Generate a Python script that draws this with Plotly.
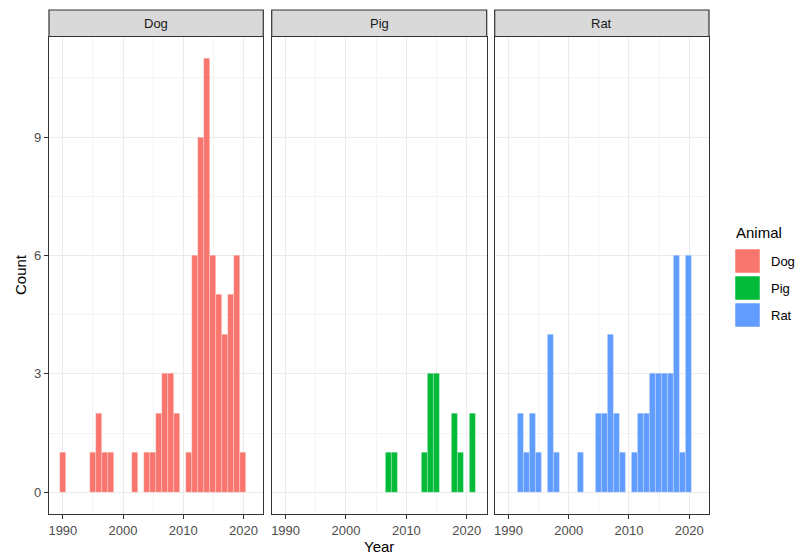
import plotly.graph_objects as go
from plotly.subplots import make_subplots

# Yearly counts per animal
animals = ["Dog", "Pig", "Rat"]
colors = ["#F8766D", "#00BA38", "#619CFF"]

dog_years = [1990, 1995, 1996, 1997, 1998, 2002, 2004, 2005, 2006, 2007, 2008, 2009,
             2011, 2012, 2013, 2014, 2015, 2016, 2017, 2018, 2019, 2020]
dog_counts = [1, 1, 2, 1, 1, 1, 1, 1, 2, 3, 3, 2,
              1, 6, 9, 11, 6, 5, 4, 5, 6, 1]

pig_years = [2007, 2008, 2013, 2014, 2015, 2018, 2019, 2021]
pig_counts = [1, 1, 1, 3, 3, 2, 1, 2]

rat_years = [1992, 1993, 1994, 1995, 1997, 1998, 2002, 2005, 2006, 2007, 2008, 2009,
             2011, 2012, 2013, 2014, 2015, 2016, 2017, 2018, 2019, 2020]
rat_counts = [2, 1, 2, 1, 4, 1, 1, 2, 2, 4, 2, 1,
              1, 2, 2, 3, 3, 3, 3, 6, 1, 6]

x_ticks = [1990, 2000, 2010, 2020]
y_ticks = [0, 3, 6, 9]

series = [(dog_years, dog_counts), (pig_years, pig_counts), (rat_years, rat_counts)]

W, H = 798, 554
ml, mr, mt, mb = 49, 89, 10, 40
pw, ph = W - ml - mr, H - mt - mb

def px_x(p):
    return (p - ml) / pw

def px_y(p):
    return (H - mb - p) / ph

def dom_x(p):
    return min(1.0, max(0.0, px_x(p)))

panel_px = [(49, 263.3), (271.7, 486.7), (494.7, 709)]
panel_top = 36.5
strip_top = 10

fig = make_subplots(rows=1, cols=3, shared_yaxes=True, horizontal_spacing=0.01)

font_fam = "Liberation Sans, Arial, sans-serif"
grid_major = "#EBEBEB"
grid_minor = "#F4F4F4"
frame = "#333333"

for i, (name, col, (xs, ys)) in enumerate(zip(animals, colors, series)):
    fig.add_trace(
        go.Bar(x=xs, y=ys, width=1, name=name, showlegend=False,
               marker=dict(color=col, line=dict(color="rgba(255,255,255,0.45)", width=0.6))),
        row=1, col=i + 1)

top_dom = px_y(panel_top)
for i in range(3):
    x0, x1 = panel_px[i]
    xa = "xaxis" if i == 0 else f"xaxis{i + 1}"
    ya = "yaxis" if i == 0 else f"yaxis{i + 1}"
    fig.layout[xa].update(
        domain=[dom_x(x0), dom_x(x1)], range=[1987.7, 2023.3],
        tickvals=x_ticks, ticktext=[str(t) for t in x_ticks],
        ticks="outside", ticklen=4, tickwidth=1, tickcolor=frame,
        tickfont=dict(family=font_fam, size=13, color="#4D4D4D"),
        showgrid=True, gridcolor=grid_major, gridwidth=1,
        minor=dict(tickvals=[1995, 2005, 2015], showgrid=True, gridcolor=grid_minor,
                   gridwidth=1, ticks=""),
        showline=True, linecolor=frame, linewidth=1.2, mirror=True, zeroline=False)
    fig.layout[ya].update(
        domain=[0, top_dom], range=[-0.55, 11.55],
        tickvals=y_ticks, showticklabels=(i == 0),
        ticks="outside" if i == 0 else "", ticklen=4, tickwidth=1, tickcolor=frame,
        tickfont=dict(family=font_fam, size=13, color="#4D4D4D"),
        showgrid=True, gridcolor=grid_major, gridwidth=1,
        minor=dict(tickvals=[1.5, 4.5, 7.5, 10.5], showgrid=True, gridcolor=grid_minor,
                   gridwidth=1, ticks=""),
        showline=True, linecolor=frame, linewidth=1.2, mirror=True, zeroline=False)

    # facet strip
    fig.add_shape(type="rect", xref="paper", yref="paper",
                  x0=dom_x(x0), x1=dom_x(x1), y0=top_dom, y1=px_y(strip_top),
                  fillcolor="#D9D9D9", line=dict(color=frame, width=1.2), layer="above")
    fig.add_annotation(xref="paper", yref="paper", x=(dom_x(x0) + dom_x(x1)) / 2,
                       y=(top_dom + px_y(strip_top)) / 2, text=animals[i], showarrow=False,
                       font=dict(family=font_fam, size=13, color="#1A1A1A"),
                       xanchor="center", yanchor="middle")

# axis titles
fig.add_annotation(xref="paper", yref="paper", x=px_x(379), y=px_y(546), text="Year",
                   showarrow=False, font=dict(family=font_fam, size=15, color="black"),
                   xanchor="center", yanchor="middle")
fig.add_annotation(xref="paper", yref="paper", x=px_x(20), y=px_y(275), text="Count",
                   showarrow=False, textangle=-90,
                   font=dict(family=font_fam, size=15, color="black"),
                   xanchor="center", yanchor="middle")

# legend
fig.add_annotation(xref="paper", yref="paper", x=px_x(734), y=px_y(232), text="Animal",
                   showarrow=False, font=dict(family=font_fam, size=15, color="black"),
                   xanchor="left", yanchor="middle")
key_tops = [249, 276, 303]
for name, col, kt in zip(animals, colors, key_tops):
    fig.add_shape(type="rect", xref="paper", yref="paper",
                  x0=px_x(735), x1=px_x(760), y0=px_y(kt + 24), y1=px_y(kt),
                  fillcolor=col, line=dict(color="white", width=0.5))
    fig.add_annotation(xref="paper", yref="paper", x=px_x(769), y=px_y(kt + 12.5), text=name,
                       showarrow=False, font=dict(family=font_fam, size=13, color="black"),
                       xanchor="left", yanchor="middle")

fig.update_layout(
    width=W, height=H, margin=dict(l=ml, r=mr, t=mt, b=mb, autoexpand=False),
    paper_bgcolor="white", plot_bgcolor="white", showlegend=False, bargap=0)

fig.write_html("out.html")
